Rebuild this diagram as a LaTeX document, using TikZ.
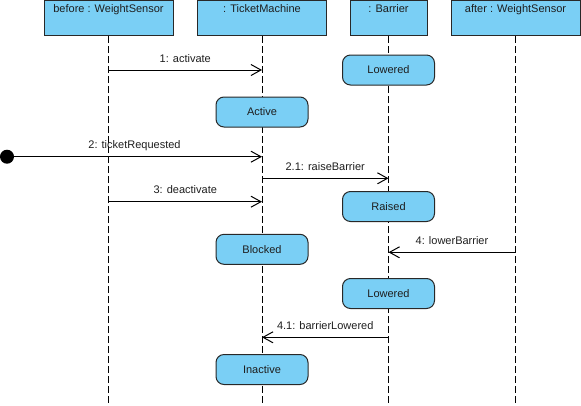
\documentclass[tikz,border=0pt]{standalone}
\usepackage{fontspec}
\setmainfont{Liberation Sans}
\usetikzlibrary{arrows.meta,positioning}
\definecolor{boxfill}{RGB}{122,207,245}
\definecolor{boxline}{RGB}{40,40,40}
\definecolor{txt}{RGB}{30,30,30}
\begin{document}
\begin{tikzpicture}[x=1pt,y=-1pt,
  every node/.style={font=\fontsize{11}{13}\selectfont, text=txt},
  head/.style={draw=boxline, fill=boxfill, line width=1pt, minimum width=129pt, minimum height=35pt, anchor=north, inner sep=0pt},
  headtxt/.style={anchor=base, inner sep=0pt},
  state/.style={draw=boxline, fill=boxfill, line width=1pt, rounded corners=8pt, minimum width=92pt, minimum height=30pt, inner sep=0pt},
  life/.style={line width=1pt, dash pattern=on 7pt off 3pt},
  msg/.style={line width=1pt, -{Straight Barb[length=10pt,width=11pt,line width=1pt]}},
  msglbl/.style={midway, anchor=base, yshift=8pt, inner sep=0pt},
]
\useasboundingbox (0,0) rectangle (581,405);
% lifeline heads
\node[head] (b) at (108.5,0) {};
\node[head] (t) at (262,0) {};
\node[head, minimum width=77pt] (r) at (388.5,0) {};
\node[head] (a) at (515.5,0) {};
\node[headtxt] (bt) at ([yshift=-12pt]b.north) {before : WeightSensor};
\node[headtxt] (tt) at ([yshift=-12pt]t.north) {: TicketMachine};
\node[headtxt] (rt) at ([yshift=-12pt]r.north) {: Barrier};
\node[headtxt] (at) at ([yshift=-12pt]a.north) {after : WeightSensor};
% lifeline ends
\coordinate (be) at (108.5,405);
\coordinate (te) at (262,405);
\coordinate (re) at (388.5,405);
\coordinate (ae) at (515.5,405);
\draw[life] (b.south) -- (be);
\draw[life] (t.south) -- (te);
\draw[life] (r.south) -- (re);
\draw[life] (a.south) -- (ae);
% states
\node[state] (s1) at (388.5,70) {Lowered};
\node[state] (s2) at (262,112) {Active};
\node[state] (s3) at (388.5,206.5) {Raised};
\node[state] (s4) at (262,249.3) {Blocked};
\node[state] (s5) at (388.5,293.5) {Lowered};
\node[state] (s6) at (262,369.5) {Inactive};
% found message start
\fill[black] (7,156.7) circle (7pt);
\coordinate (dot) at (7,156.7);
% messages
\coordinate (m1a) at (108.5,70);  \coordinate (m1b) at (262,70);
\coordinate (m2b) at (262,156.7);
\coordinate (m21a) at (262,178.3); \coordinate (m21b) at (388.5,178.3);
\coordinate (m3a) at (108.5,201.7); \coordinate (m3b) at (262,201.7);
\coordinate (m4a) at (515.5,252.3); \coordinate (m4b) at (388.5,252.3);
\coordinate (m41a) at (388.5,337.3); \coordinate (m41b) at (262,337.3);
\draw[msg] (m1a) -- (m1b) node[msglbl] (l1) {1: activate};
\draw[msg] (dot) -- (m2b) node[msglbl] (l2) {2: ticketRequested};
\draw[msg] (m21a) -- (m21b) node[msglbl] (l21) {2.1: raiseBarrier};
\draw[msg] (m3a) -- (m3b) node[msglbl] (l3) {3: deactivate};
\draw[msg] (m4a) -- (m4b) node[msglbl] (l4) {4: lowerBarrier};
\draw[msg] (m41a) -- (m41b) node[msglbl] (l41) {4.1: barrierLowered};
\end{tikzpicture}
\end{document}
